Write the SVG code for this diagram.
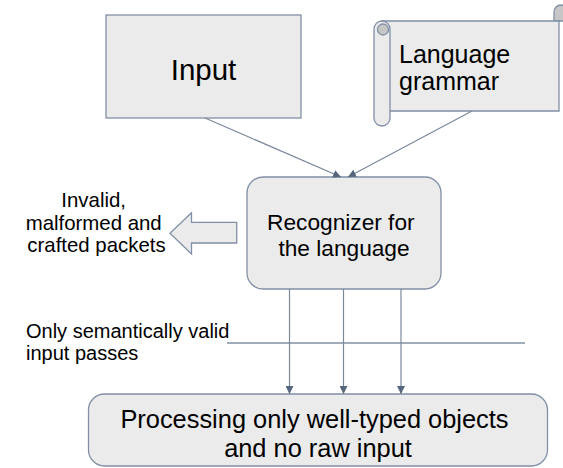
<svg xmlns="http://www.w3.org/2000/svg" width="563" height="468" viewBox="0 0 563 468">
  <defs>
    <style>
      .box { fill: #ebebeb; stroke: #8090a6; stroke-width: 1.3; }
      .shade { fill: #c6c6c6; stroke: #8090a6; stroke-width: 1.3; }
      .conn { fill: none; stroke: #7a889c; stroke-width: 1.2; }
      .t { font-family: "Liberation Sans", Arial, sans-serif; fill: #000000; }
    </style>
    <marker id="head" viewBox="0 0 10 10" refX="10" refY="5" markerWidth="8" markerHeight="8" markerUnits="userSpaceOnUse" orient="auto">
      <path d="M0,0 L10,5 L0,10 Z" fill="#56667c"/>
    </marker>
  </defs>

  <rect width="563" height="468" fill="#ffffff"/>

  <!-- Input -->
  <g id="input">
    <rect class="box" x="106" y="15" width="195" height="103"/>
    <text class="t" x="203.5" y="80" font-size="29.5" text-anchor="middle">Input</text>
  </g>

  <!-- Language grammar scroll -->
  <g id="grammar">
    <path class="shade" d="M554,21 V12 A7,7 0 0 1 568,12 V21 Z"/>
    <path class="box" d="M382,21 H559 V111 H382 Z"/>
    <rect class="box" x="374" y="21" width="16" height="105" rx="8"/>
    <circle class="shade" cx="383" cy="29.5" r="5.5"/>
    <text class="t" font-size="25">
      <tspan x="399" y="63">Language</tspan>
      <tspan x="399" y="90">grammar</tspan>
    </text>
  </g>

  <!-- Recognizer -->
  <g id="recognizer">
    <rect class="box" x="247" y="177" width="194" height="112" rx="16"/>
    <text class="t" font-size="22.7" text-anchor="middle">
      <tspan x="344" y="230">Recognizer for</tspan>
      <tspan x="344" y="256">the language</tspan>
    </text>
  </g>

  <!-- Rejected input -->
  <g id="rejected">
    <path class="box" d="M236.7,222.3 H191.5 V212.7 L170,233.3 L191.5,254 V243 H236.7 Z"/>
    <text class="t" font-size="20.4" text-anchor="middle">
      <tspan x="96.5" y="207">Invalid,</tspan>
      <tspan x="96.5" y="230">malformed and</tspan>
      <tspan x="96.5" y="252">crafted packets</tspan>
    </text>
  </g>

  <!-- Semantic gate -->
  <g id="gate">
    <line x1="227" y1="343" x2="525" y2="343" stroke="#8090a6" stroke-width="1.3"/>
    <text class="t" font-size="20">
      <tspan x="26" y="338">Only semantically valid</tspan>
      <tspan x="26" y="360">input passes</tspan>
    </text>
  </g>

  <!-- Processing -->
  <g id="processing">
    <rect class="box" x="88.5" y="394" width="459" height="72" rx="16"/>
    <text class="t" font-size="25.4" text-anchor="middle">
      <tspan x="318" y="428">Processing only well-typed objects</tspan>
      <tspan x="318" y="457">and no raw input</tspan>
    </text>
  </g>

  <!-- Connectors -->
  <g id="connectors">
    <line class="conn" x1="205" y1="118" x2="341" y2="177" marker-end="url(#head)"/>
    <line class="conn" x1="472" y1="111" x2="348" y2="177" marker-end="url(#head)"/>
    <line class="conn" x1="289.5" y1="289" x2="289.5" y2="394" marker-end="url(#head)"/>
    <line class="conn" x1="343.5" y1="289" x2="343.5" y2="394" marker-end="url(#head)"/>
    <line class="conn" x1="401" y1="289" x2="401" y2="394" marker-end="url(#head)"/>
  </g>
</svg>
